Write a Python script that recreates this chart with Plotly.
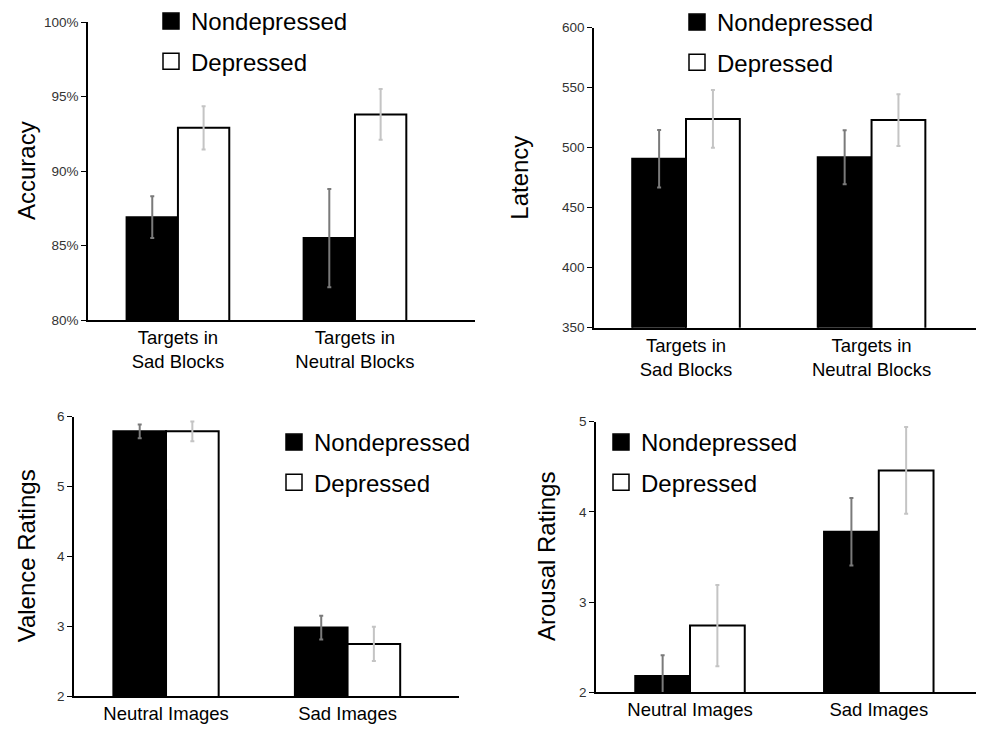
import plotly.graph_objects as go

# ---- data ----
groups = ["Nondepressed", "Depressed"]

acc_cats = ["Targets in<br>Sad Blocks", "Targets in<br>Neutral Blocks"]
acc_nondep = [86.9, 85.5]
acc_nondep_err = [1.4, 3.3]
acc_dep = [92.9, 93.8]
acc_dep_err = [1.45, 1.7]
acc_ticks = [80, 85, 90, 95, 100]
acc_ticklabels = ["80%", "85%", "90%", "95%", "100%"]

lat_cats = ["Targets in<br>Sad Blocks", "Targets in<br>Neutral Blocks"]
lat_nondep = [490.8, 492.0]
lat_nondep_err = [24.0, 22.5]
lat_dep = [524.0, 523.0]
lat_dep_err = [24.0, 21.5]
lat_ticks = [350, 400, 450, 500, 550, 600]

val_cats = ["Neutral Images", "Sad Images"]
val_nondep = [5.79, 2.98]
val_nondep_err = [0.10, 0.17]
val_dep = [5.79, 2.745]
val_dep_err = [0.14, 0.245]
val_ticks = [2, 3, 4, 5, 6]

aro_cats = ["Neutral Images", "Sad Images"]
aro_nondep = [2.18, 3.78]
aro_nondep_err = [0.23, 0.375]
aro_dep = [2.74, 4.46]
aro_dep_err = [0.45, 0.48]
aro_ticks = [2, 3, 4, 5]

FONT = "Liberation Sans, Arial, sans-serif"
PAGE_W, PAGE_H = 992, 738
OFF = 8  # default body margin of the html page
W, H = PAGE_W - OFF, PAGE_H - OFF


def px_x(x):
    return (x - OFF) / W


def px_y(y):
    return 1 - (y - OFF) / H


# panel layout in page pixels: (x0, x1, ytop, ybottom), x range, y range
panels = [
    dict(cats=acc_cats, nd=acc_nondep, nde=acc_nondep_err, d=acc_dep, de=acc_dep_err,
         box=(88, 475, 22, 320), xr=[-0.508, 1.678], yr=[80, 100],
         ticks=acc_ticks, ticklabels=acc_ticklabels, title="Accuracy",
         title_x=26, legend=(151, -1)),
    dict(cats=lat_cats, nd=lat_nondep, nde=lat_nondep_err, d=lat_dep, de=lat_dep_err,
         box=(594, 976, 27.7, 327.7), xr=[-0.496, 1.563], yr=[350, 600],
         ticks=lat_ticks, ticklabels=[str(t) for t in lat_ticks], title="Latency",
         title_x=520, legend=(677, 0)),
    dict(cats=val_cats, nd=val_nondep, nde=val_nondep_err, d=val_dep, de=val_dep_err,
         box=(74, 459, 416.7, 696), xr=[-0.507, 1.614], yr=[2, 6],
         ticks=val_ticks, ticklabels=[str(t) for t in val_ticks], title="Valence Ratings",
         title_x=26, legend=(274, 420)),
    dict(cats=aro_cats, nd=aro_nondep, nde=aro_nondep_err, d=aro_dep, de=aro_dep_err,
         box=(596, 976, 421.7, 692.3), xr=[-0.498, 1.515], yr=[2, 5],
         ticks=aro_ticks, ticklabels=[str(t) for t in aro_ticks], title="Arousal Ratings",
         title_x=546, legend=(601, 420)),
]

fig = go.Figure()
layout = {}

for i, p in enumerate(panels, start=1):
    xa = "x" if i == 1 else f"x{i}"
    ya = "y" if i == 1 else f"y{i}"
    lg = "legend" if i == 1 else f"legend{i}"
    xs = list(range(len(p["cats"])))

    fig.add_trace(go.Bar(
        x=xs, y=p["nd"], xaxis=xa, yaxis=ya, showlegend=False,
        marker=dict(color="black", line=dict(color="black", width=2)),
        error_y=dict(type="data", array=p["nde"], color="#7a7a7a", thickness=2, width=2),
    ))
    fig.add_trace(go.Bar(
        x=xs, y=p["d"], xaxis=xa, yaxis=ya, showlegend=False,
        marker=dict(color="white", line=dict(color="black", width=2)),
        error_y=dict(type="data", array=p["de"], color="#c4c4c4", thickness=2, width=2),
    ))
    # legend entries (square swatches)
    for name, fill in zip(groups, ["black", "white"]):
        fig.add_trace(go.Scatter(
            x=[None], y=[None], xaxis=xa, yaxis=ya, mode="markers", name=name,
            legend=lg, legendgroup=f"{lg}-{name}",
            marker=dict(symbol="square", size=16, color=fill,
                        line=dict(color="black", width=1.5)),
        ))

    x0, x1, yt, yb = p["box"]
    layout[f"xaxis{'' if i == 1 else i}"] = dict(
        domain=[px_x(x0), px_x(x1)], anchor=ya, range=p["xr"], automargin=False,
        tickvals=xs, ticktext=p["cats"], showline=True, linecolor="black",
        linewidth=1.5, ticks="", showgrid=False, zeroline=False,
        tickfont=dict(family=FONT, size=18.5, color="black"),
    )
    layout[f"yaxis{'' if i == 1 else i}"] = dict(
        domain=[px_y(yb), px_y(yt)], anchor=xa, range=p["yr"], automargin=False,
        tickmode="array", tickvals=p["ticks"], ticktext=p["ticklabels"], showline=True,
        linecolor="black", linewidth=1.5, ticks="outside", ticklen=5,
        tickcolor="black", showgrid=False, zeroline=False,
        tickfont=dict(family=FONT, size=13.5, color="#333"),
    )
    lx, ly = p["legend"]
    layout[lg] = dict(
        x=px_x(lx), y=px_y(ly), xanchor="left", yanchor="top",
        bgcolor="rgba(0,0,0,0)", tracegroupgap=6, itemclick=False,
        font=dict(family=FONT, size=24, color="black"),
    )
    fig.add_annotation(
        text=p["title"], xref="paper", yref="paper", x=px_x(p["title_x"]),
        y=px_y((yt + yb) / 2), xanchor="center", yanchor="middle",
        textangle=-90, showarrow=False,
        font=dict(family=FONT, size=24, color="black"),
    )

fig.update_layout(
    width=W, height=H, margin=dict(l=0, r=0, t=0, b=0, autoexpand=False),
    paper_bgcolor="white", plot_bgcolor="white",
    barmode="group", bargap=0.42, bargroupgap=0,
    **layout,
)

fig.write_html("out.html")
